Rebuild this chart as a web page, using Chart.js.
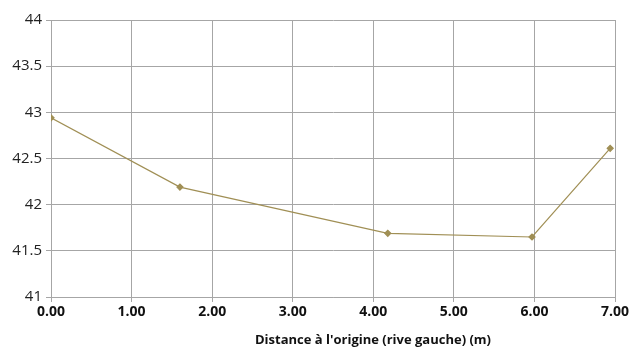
<!DOCTYPE html>
<html lang="fr">
  <head>
    <meta charset="UTF-8" />
    <title>Profil</title>
    <script src="https://cdn.jsdelivr.net/npm/chart.js"></script>
    <style>
      body { margin: 0; background: #fff; }
    </style>
  </head>
  <body>
    <canvas id="myChart" width="638" height="358"></canvas>
    <script>
      // distances (m) et cotes
      const distances = [0, 1.6, 4.18, 5.97, 6.94];
      const cotes = [42.94, 42.19, 41.69, 41.65, 42.61];
      const xTitle = "Distance à l'origine (rive gauche) (m)";

      const lineColor = "#a08f55";

      // titre de l'axe x dessiné à la main (décalé à droite comme l'original)
      const xTitlePlugin = {
        id: "xTitle",
        afterDraw: (chart) => {
          const ctx = chart.ctx;
          const area = chart.chartArea;
          ctx.save();
          ctx.font = "bold 13px 'Open Sans'";
          ctx.fillStyle = "#111";
          ctx.textAlign = "center";
          ctx.textBaseline = "middle";
          ctx.fillText(xTitle, (area.left + area.right) / 2 + 40, 340);
          ctx.restore();
        },
      };

      const ctx = document.getElementById("myChart");
      const myChart = new Chart(ctx, {
        type: "scatter",
        data: {
          datasets: [
            {
              data: distances.map((d, i) => ({ x: d, y: cotes[i] })),
              showLine: true,
              borderColor: lineColor,
              backgroundColor: lineColor,
              borderWidth: 1.2,
              pointStyle: "rectRot",
              pointRadius: 3,
              pointHoverRadius: 3,
            },
          ],
        },
        options: {
          responsive: false,
          animation: false,
          layout: { padding: { top: 20, right: 23, left: 0, bottom: 0 } },
          plugins: { legend: { display: false }, tooltip: { enabled: false } },
          scales: {
            x: {
              type: "linear",
              min: 0,
              max: 7,
              afterFit: (scale) => {
                scale.height = 61;
              },
              ticks: {
                stepSize: 1,
                padding: 2,
                color: "#111",
                font: { family: "'Open Sans'", size: 14, weight: "bold" },
                callback: (value) => value.toFixed(2),
              },
              grid: { color: "#a6a6a6", tickLength: 5, tickColor: "#a6a6a6" },
              border: { color: "#a6a6a6" },
            },
            y: {
              min: 41,
              max: 44,
              afterFit: (scale) => {
                scale.width = 51;
              },
              ticks: {
                stepSize: 0.5,
                padding: 4,
                color: "#222",
                font: { family: "'Open Sans'", size: 15 },
                callback: (value) => String(value),
              },
              grid: { color: "#a6a6a6", tickLength: 5, tickColor: "#a6a6a6" },
              border: { color: "#a6a6a6" },
            },
          },
        },
        plugins: [xTitlePlugin],
      });
    </script>
  </body>
</html>
